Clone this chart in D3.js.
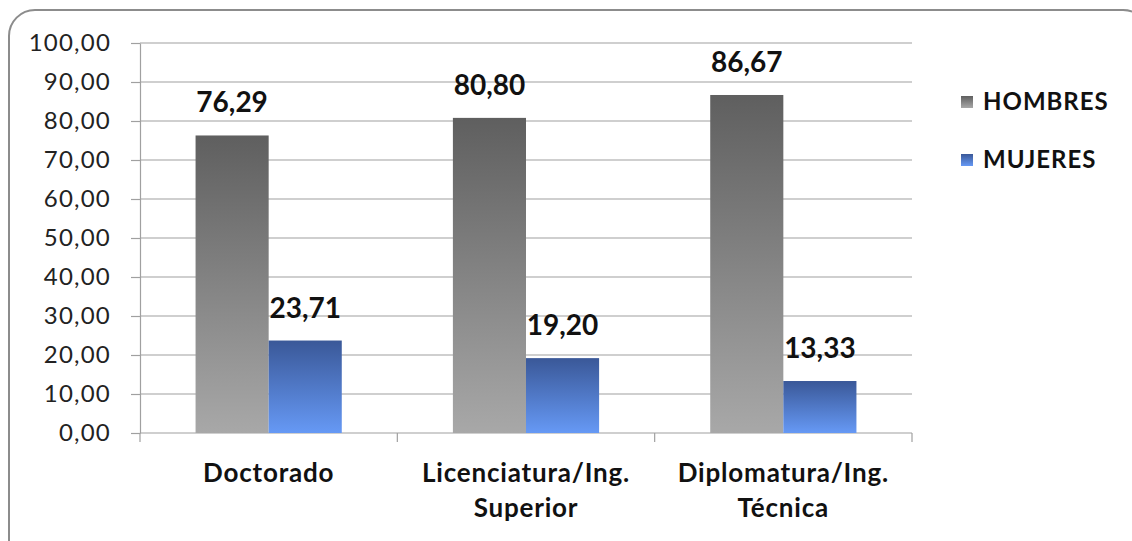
<!DOCTYPE html>
<html><head><meta charset="utf-8">
<script src="https://cdn.jsdelivr.net/npm/d3@7"></script>
<style>body{margin:0;background:#fff;}svg{display:block;font-family:Lato,"Open Sans",sans-serif;}</style>
</head><body><svg id="c" width="1132" height="541"></svg>
<script>
const categories = [["Doctorado"], ["Licenciatura/Ing.", "Superior"], ["Diplomatura/Ing.", "Técnica"]];
const seriesNames = ["HOMBRES", "MUJERES"];
const hombres = [76.29, 80.80, 86.67];
const mujeres = [23.71, 19.20, 13.33];
const yTicks = [0, 10, 20, 30, 40, 50, 60, 70, 80, 90, 100];

(function () {
const svg = d3.select("#c");
const defs = svg.append("defs");
function grad(id, c1, c2) {
  const g = defs.append("linearGradient").attr("id", id).attr("x1", 0).attr("y1", 0).attr("x2", 0).attr("y2", 1);
  g.append("stop").attr("offset", 0).attr("stop-color", c1);
  g.append("stop").attr("offset", 1).attr("stop-color", c2);
}
grad("gH", "#5f5f5f", "#a8a8a8");
grad("gM", "#3a5898", "#6699f5");
const fills = ["url(#gH)", "url(#gM)"];

// chart border
svg.append("rect").attr("x", 9).attr("y", 10).attr("width", 1140).attr("height", 560)
  .attr("rx", 26).attr("fill", "none").attr("stroke", "#8c8c8c").attr("stroke-width", 2);

const pL = 140, pR = 912, pT = 43, pB = 433;
const y = d3.scaleLinear().domain([0, 100]).range([pB, pT]);
const x = d3.scaleBand().domain(d3.range(categories.length)).range([pL, pR]);
const inner = d3.scaleBand().domain([0, 1]).range([0, x.bandwidth()]).paddingInner(0).paddingOuter(0.76);

const fmt = v => v.toFixed(2).replace(".", ",");

// gridlines
svg.append("g").selectAll("line").data(yTicks.filter(t => t > 0)).join("line")
  .attr("x1", pL).attr("x2", pR).attr("y1", d => y(d)).attr("y2", d => y(d))
  .attr("stroke", "#a0a0a0").attr("stroke-width", 1.2);

// y axis
const ya = svg.append("g").attr("transform", `translate(${pL},0)`)
  .call(d3.axisLeft(y).tickValues(yTicks).tickSize(9).tickSizeOuter(0).tickPadding(20).tickFormat(fmt));
ya.select(".domain").attr("stroke", "#a0a0a0").attr("stroke-width", 1.2);
ya.selectAll(".tick line").attr("stroke", "#a0a0a0").attr("stroke-width", 1.2);
ya.selectAll("text").attr("font-size", 24).attr("fill", "#222").attr("font-family", "Lato")
  .attr("letter-spacing", 1.2);

// x axis
const xa = svg.append("g").attr("transform", `translate(0,${pB})`);
xa.append("line").attr("x1", pL).attr("x2", pR).attr("stroke", "#a0a0a0").attr("stroke-width", 1.2);
xa.selectAll("line.t").data(d3.range(categories.length + 1)).join("line").attr("class", "t")
  .attr("x1", d => d < categories.length ? x(d) : pR).attr("x2", d => d < categories.length ? x(d) : pR)
  .attr("y1", 0).attr("y2", 9).attr("stroke", "#a0a0a0").attr("stroke-width", 1.2);

// bars
const data = [hombres, mujeres];
data.forEach((vals, s) => {
  const g = svg.append("g");
  g.selectAll("rect").data(vals).join("rect")
    .attr("x", (d, i) => x(i) + inner(s)).attr("width", inner.bandwidth())
    .attr("y", d => y(d)).attr("height", d => pB - y(d))
    .attr("fill", fills[s]);
  g.selectAll("text").data(vals).join("text")
    .attr("x", (d, i) => x(i) + inner(s) + inner.bandwidth() / 2)
    .attr("y", d => y(d) - 23).attr("text-anchor", "middle")
    .attr("font-size", 28).attr("font-weight", "bold").attr("fill", "#111")
    .text(fmt);
});

// category labels
const cl = svg.append("g");
categories.forEach((lines, i) => {
  const t = cl.append("text").attr("x", x(i) + x.bandwidth() / 2).attr("y", 482)
    .attr("text-anchor", "middle").attr("font-size", 26).attr("font-weight", "bold").attr("fill", "#111")
    .attr("letter-spacing", 0.8);
  lines.forEach((l, j) => t.append("tspan").attr("x", x(i) + x.bandwidth() / 2).attr("dy", j ? 35 : 0).text(l));
});

// legend
const lg = svg.append("g");
seriesNames.forEach((n, i) => {
  lg.append("rect").attr("x", 961).attr("y", 96 + i * 58).attr("width", 12).attr("height", 12).attr("fill", fills[i]);
  lg.append("text").attr("x", 983).attr("y", 110 + i * 58).attr("font-size", 24).attr("font-weight", "bold")
    .attr("letter-spacing", 1).attr("fill", "#111").text(n);
});
})();
</script></body></html>
